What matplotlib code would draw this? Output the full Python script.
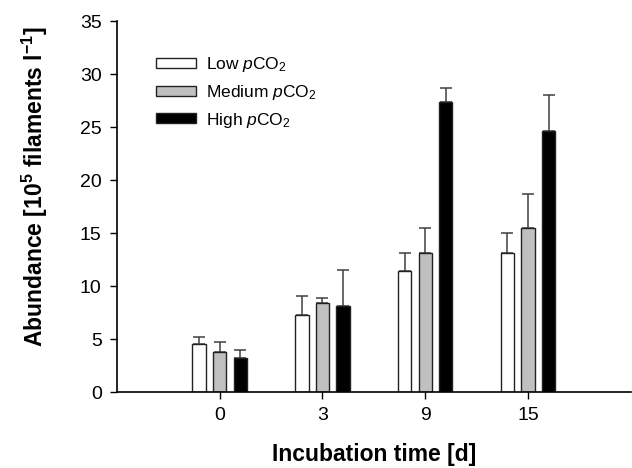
import numpy as np
import matplotlib.pyplot as plt

# === Fonts (Arial-like) ===
plt.rcParams['font.family'] = ['Liberation Sans', 'DejaVu Sans']
plt.rcParams['mathtext.fontset'] = 'custom'
plt.rcParams['mathtext.rm'] = 'Liberation Sans'
plt.rcParams['mathtext.it'] = 'Liberation Sans:italic'
plt.rcParams['mathtext.bf'] = 'Liberation Sans:bold'

# === Data ===
days = ['0', '3', '9', '15']
low = [4.5, 7.3, 11.4, 13.1]
low_err = [0.7, 1.8, 1.7, 1.9]
medium = [3.8, 8.4, 13.1, 15.5]
medium_err = [0.9, 0.5, 2.4, 3.2]
high = [3.2, 8.1, 27.4, 24.6]
high_err = [0.8, 3.4, 1.3, 3.4]

labels = [r'Low $\it{p}$CO$_2$', r'Medium $\it{p}$CO$_2$', r'High $\it{p}$CO$_2$']
colors = ['white', '#c0c0c0', 'black']

# === Plot ===
fig = plt.figure(figsize=(6.32, 4.68), dpi=100)
ax = fig.add_axes([0.185, 0.162, 0.813, 0.793])

x = np.arange(1, len(days) + 1)
width = 0.13
offsets = [-0.2, 0.0, 0.2]
series = [(low, low_err), (medium, medium_err), (high, high_err)]

for (vals, errs), off, col, lab in zip(series, offsets, colors, labels):
    ax.bar(x + off, vals, width, color=col, edgecolor='#222222', linewidth=1.0,
           label=lab, zorder=2)
    ax.errorbar(x + off, vals, yerr=[np.zeros(len(errs)), errs], fmt='none',
                ecolor='#404040', elinewidth=1.1, capsize=4, capthick=1.1, zorder=1)

ax.set_xlim(0, 5)
ax.set_ylim(0, 35)
ax.set_xticks(x)
ax.set_xticklabels(days)
ax.set_yticks(np.arange(0, 36, 5))
ax.tick_params(axis='both', labelsize=14, length=5, width=1, direction='out', pad=6)

ax.spines['top'].set_visible(False)
ax.spines['right'].set_visible(False)
ax.spines['left'].set_linewidth(1.2)
ax.spines['bottom'].set_linewidth(1.2)

ax.set_xlabel('Incubation time [d]', fontsize=16.5, fontweight='bold', labelpad=13)
ax.set_ylabel(r'Abundance [10$^\mathbf{5}$ filaments l$^\mathbf{-1}$]',
              fontsize=16.5, fontweight='bold')
ax.yaxis.set_label_coords(-0.13, 0.555)

ax.legend(loc='upper left', bbox_to_anchor=(0.045, 0.95), frameon=False,
          fontsize=12.5, handlelength=2.3, handleheight=0.5, labelspacing=0.5,
          handletextpad=0.6)

plt.savefig('out.png', dpi=100)
